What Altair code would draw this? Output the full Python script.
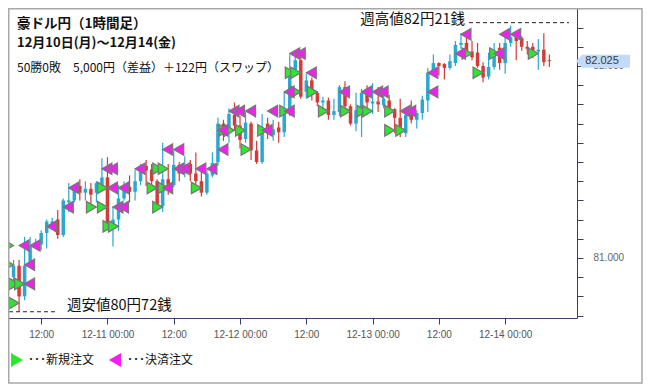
import altair as alt
import pandas as pd

# ---------------- data (AUD/JPY 1h candles, 2018-12-10 07:00 .. 2018-12-14 08:00) ----------------
start = pd.Timestamp("2018-12-10 07:00")

opens = [80.90, 80.96, 80.80, 80.98, 81.07, 81.07, 81.13, 81.18, 81.20, 81.12,
         81.29, 81.30, 81.375, 81.34, 81.36, 81.34, 81.38, 81.42, 81.16, 81.20,
         81.31, 81.37, 81.345, 81.40, 81.48, 81.46, 81.40, 81.27, 81.41, 81.38,
         81.485, 81.44, 81.49, 81.44, 81.40, 81.34, 81.43, 81.50, 81.70, 81.65,
         81.745, 81.69, 81.62, 81.70, 81.56, 81.50, 81.70, 81.64, 81.68, 81.655,
         81.755, 81.98, 82.03, 81.865, 81.925, 81.86, 81.81, 81.82, 81.745, 81.76,
         81.89, 81.79, 81.70, 81.76, 81.875, 81.805, 81.815, 81.795, 81.82, 81.775,
         81.73, 81.65, 81.77, 81.72, 81.755, 81.82, 81.965, 82.015, 82.01, 81.99,
         82.015, 82.11, 82.12, 82.075, 82.07, 82.00, 81.945, 81.995, 82.095, 82.015,
         82.12, 82.15, 82.145, 82.10, 82.10, 82.075, 82.085, 82.03]
highs = [80.99, 80.99, 81.11, 81.11, 81.10, 81.145, 81.20, 81.21, 81.25, 81.31,
         81.39, 81.38, 81.41, 81.40, 81.39, 81.40, 81.52, 81.525, 81.27, 81.38,
         81.40, 81.43, 81.46, 81.49, 81.51, 81.49, 81.41, 81.60, 81.49, 81.56,
         81.50, 81.53, 81.51, 81.55, 81.46, 81.46, 81.55, 81.73, 81.72, 81.78,
         81.81, 81.74, 81.76, 81.71, 81.61, 81.75, 81.73, 81.72, 81.71, 81.865,
         82.06, 82.07, 82.07, 81.96, 81.94, 81.87, 81.84, 81.835, 81.83, 81.90,
         81.92, 81.80, 81.86, 81.88, 81.90, 81.91, 81.89, 81.87, 81.85, 81.78,
         81.83, 81.78, 81.82, 81.77, 81.845, 81.99, 82.06, 82.02, 82.015, 82.06,
         82.13, 82.17, 82.17, 82.13, 82.12, 82.02, 82.07, 82.12, 82.12, 82.17,
         82.21, 82.16, 82.155, 82.13, 82.12, 82.14, 82.17, 82.06]
lows = [80.88, 80.72, 80.78, 80.96, 81.05, 81.04, 81.05, 81.17, 81.10, 81.11,
        81.24, 81.29, 81.30, 81.30, 81.28, 81.29, 81.37, 81.145, 81.06, 81.14,
        81.30, 81.29, 81.30, 81.38, 81.375, 81.36, 81.26, 81.24, 81.33, 81.37,
        81.40, 81.42, 81.40, 81.38, 81.32, 81.33, 81.42, 81.48, 81.61, 81.60,
        81.665, 81.57, 81.60, 81.51, 81.49, 81.49, 81.62, 81.61, 81.60, 81.63,
        81.74, 81.95, 81.83, 81.83, 81.82, 81.79, 81.78, 81.72, 81.72, 81.74,
        81.77, 81.69, 81.66, 81.63, 81.78, 81.75, 81.76, 81.78, 81.76, 81.65,
        81.63, 81.63, 81.70, 81.675, 81.72, 81.76, 81.95, 81.95, 81.93, 81.98,
        82.00, 82.09, 82.06, 82.03, 81.99, 81.915, 81.93, 81.98, 81.98, 81.96,
        82.10, 82.03, 82.08, 82.06, 82.04, 81.98, 82.00, 81.995]
closes = [80.96, 80.80, 80.96, 81.06, 81.08, 81.13, 81.19, 81.19, 81.12, 81.30,
          81.30, 81.37, 81.34, 81.36, 81.33, 81.39, 81.42, 81.18, 81.20, 81.31,
          81.35, 81.345, 81.40, 81.48, 81.455, 81.40, 81.275, 81.41, 81.375, 81.485,
          81.44, 81.48, 81.44, 81.40, 81.34, 81.44, 81.495, 81.70, 81.64, 81.75,
          81.69, 81.615, 81.705, 81.56, 81.50, 81.67, 81.65, 81.67, 81.655, 81.76,
          81.97, 82.03, 81.84, 81.925, 81.86, 81.81, 81.82, 81.745, 81.765, 81.89,
          81.79, 81.70, 81.77, 81.86, 81.81, 81.815, 81.80, 81.83, 81.77, 81.73,
          81.68, 81.745, 81.72, 81.755, 81.825, 81.965, 82.015, 82.00, 81.99, 82.025,
          82.11, 82.12, 82.075, 82.045, 82.00, 81.94, 81.995, 82.07, 82.015, 82.12,
          82.15, 82.13, 82.10, 82.09, 82.07, 82.085, 82.02, 82.025]

# new orders (green, ▶): hour index from start, fill price
new_hours = [1, 1, 2, 0, 0, 18, 19, 15, 17, 27, 17, 26, 28, 34, 27, 28, 43,
             39, 40, 42, 46, 69, 71, 50, 57, 61, 64, 65, 69, 52, 55, 51, 52, 85,
             83, 88, 95]
new_prices = [80.765, 80.865, 80.865, 80.965, 81.065, 81.165, 81.165, 81.265, 81.265, 81.265,
              81.365, 81.365, 81.365, 81.365, 81.465, 81.465, 81.565,
              81.665, 81.665, 81.665, 81.665, 81.665, 81.665,
              81.765, 81.765, 81.765, 81.765, 81.765, 81.765,
              81.865, 81.865, 81.965, 81.965, 81.965, 82.065, 82.065, 82.065]
# settlement orders (magenta, ◀)
close_hours = [2, 2, 1, 3, 6, 9, 18, 19, 10, 17, 19, 27, 16, 17, 22, 29, 30, 33, 35,
               27, 29, 37, 37, 45, 39, 40, 42, 46, 49, 70, 71, 49, 59, 63, 65, 66, 75,
               53, 75, 50, 51, 80, 87, 81, 88, 90]
close_prices = [80.865, 80.965, 81.065, 81.065, 81.165, 81.265, 81.265, 81.265,
                81.365, 81.365, 81.365, 81.365,
                81.465, 81.465, 81.465, 81.465, 81.465, 81.465, 81.465,
                81.565, 81.565, 81.565, 81.665, 81.665,
                81.765, 81.765, 81.765, 81.765, 81.765, 81.765, 81.765,
                81.865, 81.865, 81.865, 81.865, 81.865, 81.865,
                81.965, 81.965, 82.065, 82.065, 82.065, 82.065,
                82.165, 82.165, 82.165]

title_lines = ["豪ドル円（1時間足）", "12月10日(月)～12月14(金)",
               "50勝0敗　5,000円（差益）＋122円（スワップ）"]
high_label = "週高値82円21銭"
low_label = "週安値80円72銭"
legend_labels = ["･･･新規注文", "･･･決済注文"]

# ---------------- tables ----------------
def ts(h):
    return (start + pd.Timedelta(hours=h)).strftime("%Y-%m-%dT%H:%M:%SZ")

candles = pd.DataFrame({
    "t": [ts(i) for i in range(len(opens))],
    "o": opens, "h": highs, "l": lows, "c": closes,
})
candles["dir"] = ["up" if c >= o else "down" for o, c in zip(opens, closes)]

new_df = pd.DataFrame({"t": [ts(h) for h in new_hours], "p": new_prices})
close_df = pd.DataFrame({"t": [ts(h) for h in close_hours], "p": close_prices})
hi_df = pd.DataFrame({"p": [max(highs)]})
lo_df = pd.DataFrame({"p": [min(lows)]})
last_df = pd.DataFrame({"p": [closes[-1]], "txt": [f"{closes[-1]:.3f}"]})
one = pd.DataFrame({"a": [0]})

# ---------------- styles ----------------
BLUE = "#2aa7d3"
RED = "#d43a36"
GREEN = "#2ee62e"
MAGENTA = "#f21ff2"
AXIS = "#35406a"
JP = "Noto Sans CJK JP"
W, H = 569, 310

xscale = alt.Scale(type="utc",
                   domain=[alt.DateTime(year=2018, month=12, date=10, hours=6, minutes=54, utc=True),
                           alt.DateTime(year=2018, month=12, date=14, hours=12, minutes=6, utc=True)])
yscale = alt.Scale(domain=[80.6875, 82.302], zero=False, nice=False)

xvals = []
for d in range(10, 15):
    for hh in (0, 12):
        if (d == 10 and hh == 0) or (d == 14 and hh == 12):
            continue
        xvals.append(alt.DateTime(year=2018, month=12, date=d, hours=hh, utc=True))

xaxis = alt.Axis(values=xvals, title=None, grid=False, orient="bottom",
                 labelExpr="utchours(datum.value) == 0 ? utcFormat(datum.value, '%m-%d %H:%M') : utcFormat(datum.value, '%H:%M')",
                 domainColor=AXIS, tickColor=AXIS, tickSize=6, labelPadding=5,
                 labelColor="#555", labelFontSize=10, labelFont="Liberation Sans")
yvals = [round(80.7 + 0.1 * i, 1) for i in range(17)]
yaxis = alt.Axis(values=yvals, title=None, grid=False, orient="right",
                 labelExpr="abs(datum.value - round(datum.value)) < 0.001 ? format(datum.value, '.3f') : ''",
                 domainColor=AXIS, tickColor=AXIS, tickSize=6, labelPadding=10,
                 labelColor="#666", labelFontSize=10, labelFont="Liberation Sans")

X = alt.X("t:T", scale=xscale, axis=xaxis)
color = alt.Color("dir:N", scale=alt.Scale(domain=["up", "down"], range=[BLUE, RED]), legend=None)

base = alt.Chart(candles)
wicks = base.mark_rule(strokeWidth=1.2).encode(
    x=X, y=alt.Y("l:Q", scale=yscale, axis=yaxis), y2="h:Q", color=color)
bodies = base.mark_bar(size=3.5).encode(
    x=X, y=alt.Y("o:Q", scale=yscale, axis=yaxis), y2="c:Q", color=color)

tri_new = alt.Chart(new_df).mark_point(
    shape="triangle-right", filled=True, size=130, fill=GREEN, stroke="#777777",
    strokeWidth=1.3, opacity=1, xOffset=-5, clip=True).encode(
    x=X, y=alt.Y("p:Q", scale=yscale, axis=yaxis))
tri_close = alt.Chart(close_df).mark_point(
    shape="triangle-left", filled=True, size=130, fill=MAGENTA, stroke="#777777",
    strokeWidth=1.3, opacity=1, xOffset=5, clip=True).encode(
    x=X, y=alt.Y("p:Q", scale=yscale, axis=yaxis))

# weekly high / low annotations
hi_rule = alt.Chart(hi_df).mark_rule(color="#222", strokeDash=[4, 3], strokeWidth=1, yOffset=-3).encode(
    x=alt.value(461), x2=alt.value(561), y=alt.Y("p:Q", scale=yscale, axis=yaxis))
hi_text = alt.Chart(hi_df).mark_text(text=high_label, align="right", baseline="middle",
                                      font=JP, fontSize=14.5, color="#111", yOffset=-6).encode(
    x=alt.value(457), y=alt.Y("p:Q", scale=yscale, axis=yaxis))
lo_rule = alt.Chart(lo_df).mark_rule(color="#222", strokeDash=[4, 3], strokeWidth=1).encode(
    x=alt.value(1), x2=alt.value(48), y=alt.Y("p:Q", scale=yscale, axis=yaxis))
lo_text = alt.Chart(lo_df).mark_text(text=low_label, align="left", baseline="middle",
                                      font=JP, fontSize=14.5, color="#111", yOffset=-6).encode(
    x=alt.value(59), y=alt.Y("p:Q", scale=yscale, axis=yaxis))

# current price tag
tag = alt.Chart(last_df).mark_point(
    shape="M -1 0 L -0.78 -0.24 L 1 -0.24 L 1 0.24 L -0.78 0.24 Z",
    filled=True, size=2916, fill="#c3dbf7", opacity=1, strokeWidth=0).encode(
    x=alt.value(595), y=alt.Y("p:Q", scale=yscale, axis=yaxis))
tag_text = alt.Chart(last_df).mark_text(align="center", baseline="middle", font="Liberation Sans",
                                         fontSize=11, color="#333a4a").encode(
    x=alt.value(594), y=alt.Y("p:Q", scale=yscale, axis=yaxis), text="txt:N")

# titles
t1 = alt.Chart(one).mark_text(text=title_lines[0], align="left", baseline="middle", font=JP,
                              fontSize=13.5, fontWeight="bold", color="#111").encode(
    x=alt.value(9), y=alt.value(16))
t2 = alt.Chart(one).mark_text(text=title_lines[1], align="left", baseline="middle", font=JP,
                              fontSize=13, fontWeight="bold", color="#111").encode(
    x=alt.value(9), y=alt.value(35))
t3 = alt.Chart(one).mark_text(text=title_lines[2], align="left", baseline="middle", font=JP,
                              fontSize=12, color="#111").encode(
    x=alt.value(9), y=alt.value(59.5))

# legend
lg1 = alt.Chart(one).mark_point(shape="triangle-right", filled=True, size=196, fill=GREEN,
                                opacity=1, strokeWidth=0).encode(x=alt.value(9), y=alt.value(352))
lg1t = alt.Chart(one).mark_text(text=legend_labels[0], align="left", baseline="middle", font=JP,
                                fontSize=12, color="#111").encode(x=alt.value(20), y=alt.value(352))
lg2 = alt.Chart(one).mark_point(shape="triangle-left", filled=True, size=196, fill=MAGENTA,
                                opacity=1, strokeWidth=0).encode(x=alt.value(107), y=alt.value(352))
lg2t = alt.Chart(one).mark_text(text=legend_labels[1], align="left", baseline="middle", font=JP,
                                fontSize=12, color="#111").encode(x=alt.value(119), y=alt.value(352))

# outer frame
frame = alt.Chart(one).mark_rect(fill=None, stroke="#a8a8a8", strokeWidth=1.5).encode(
    x=alt.value(0.75), x2=alt.value(634), y=alt.value(0.75), y2=alt.value(375))

chart = alt.layer(
    wicks, bodies, tri_new, tri_close, hi_rule, hi_text, lo_rule, lo_text,
    tag, tag_text, t1, t2, t3, lg1, lg1t, lg2, lg2t, frame
).properties(
    width=W, height=H,
    autosize=alt.AutoSizeParams(type="none"),
    padding={"left": 0, "top": 0, "right": 66, "bottom": 67},
    background="white",
).configure_view(stroke=None)

chart.save("out.html", embed_options={"renderer": "svg", "actions": False})
